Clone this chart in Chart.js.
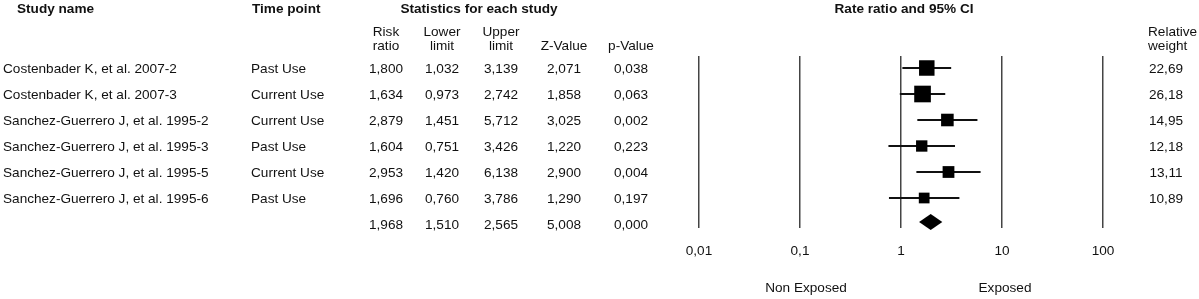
<!DOCTYPE html>
<html>
<head>
<meta charset="utf-8">
<title>Forest plot</title>
<script src="https://cdn.jsdelivr.net/npm/chart.js@4.4.1/dist/chart.umd.min.js"></script>
<style>
  html, body { margin: 0; padding: 0; background: #ffffff; overflow: hidden; }
  #wrap { position: relative; width: 1199px; height: 299px; }
</style>
</head>
<body>
<div id="wrap"><canvas id="forestChart" width="1199" height="299"></canvas></div>
<script>
// ── Data ──────────────────────────────────────────────────────────────────
const studyNames = [
    'Costenbader K, et al. 2007-2',
    'Costenbader K, et al. 2007-3',
    'Sanchez-Guerrero J, et al. 1995-2',
    'Sanchez-Guerrero J, et al. 1995-3',
    'Sanchez-Guerrero J, et al. 1995-5',
    'Sanchez-Guerrero J, et al. 1995-6'
];
const timePoints  = ['Past Use', 'Current Use', 'Current Use', 'Past Use', 'Current Use', 'Past Use'];
const riskRatio   = [1.800, 1.634, 2.879, 1.604, 2.953, 1.696];
const lowerLimit  = [1.032, 0.973, 1.451, 0.751, 1.420, 0.760];
const upperLimit  = [3.139, 2.742, 5.712, 3.426, 6.138, 3.786];
const zValues     = [2.071, 1.858, 3.025, 1.220, 2.900, 1.290];
const pValues     = [0.038, 0.063, 0.002, 0.223, 0.004, 0.197];
const relWeights  = [22.69, 26.18, 14.95, 12.18, 13.11, 10.89];

// pooled estimate (last row)
const summaryStats = [1.968, 1.510, 2.565, 5.008, 0.000]; // RR, lower, upper, Z, p

const axisTicks = [0.01, 0.1, 1, 10, 100];

// ── Helpers ───────────────────────────────────────────────────────────────
const FONT = '"Liberation Sans", Arial, Helvetica, sans-serif';
const FSIZE = 13.6;
const INK  = '#111111';
const fmt3 = v => v.toFixed(3).replace('.', ',');
const fmt2 = v => v.toFixed(2).replace('.', ',');
const summaryRow = studyNames.length;

// one line dataset per study for its confidence interval
const ciDatasets = studyNames.map((name, i) => ({
    type: 'line',
    label: name,
    data: [{ x: lowerLimit[i], y: i }, { x: upperLimit[i], y: i }],
    borderColor: INK,
    borderWidth: 2,
    pointRadius: 0,
    order: 2
}));

// ── Table text + diamond, drawn against the chart scales ─────────────────
const forestTable = {
    id: 'forestTable',
    afterDatasetsDraw(chart) {
        const { ctx, scales: { x, y } } = chart;
        const yc = y.getPixelForValue(summaryRow) - 2;
        const xl = x.getPixelForValue(summaryStats[1]);
        const xm = x.getPixelForValue(summaryStats[0]);
        const xr = x.getPixelForValue(summaryStats[2]);
        ctx.save();
        ctx.fillStyle = '#000';
        ctx.beginPath();
        ctx.moveTo(xl, yc);
        ctx.lineTo(xm, yc - 8);
        ctx.lineTo(xr, yc);
        ctx.lineTo(xm, yc + 8);
        ctx.closePath();
        ctx.fill();
        ctx.restore();
    },
    afterDraw(chart) {
        const { ctx, scales: { x, y } } = chart;
        ctx.save();
        ctx.fillStyle = INK;
        ctx.textBaseline = 'middle';

        // headers
        ctx.font = `bold ${FSIZE}px ${FONT}`;
        ctx.textAlign = 'left';
        ctx.fillText('Study name', 17, 9);
        ctx.fillText('Time point', 252, 9);
        ctx.textAlign = 'center';
        ctx.fillText('Statistics for each study', 479, 9);
        ctx.fillText('Rate ratio and 95% CI', 904, 9);

        ctx.font = `${FSIZE}px ${FONT}`;
        const cols = [386, 442, 501, 564, 631];
        const sub  = [['Risk', 'ratio'], ['Lower', 'limit'], ['Upper', 'limit'], ['', 'Z-Value'], ['', 'p-Value']];
        sub.forEach((s, k) => {
            ctx.fillText(s[0], cols[k], 32);
            ctx.fillText(s[1], cols[k], 46);
        });
        ctx.textAlign = 'left';
        ctx.fillText('Relative', 1148, 32);
        ctx.fillText('weight', 1148, 46);

        // study rows
        studyNames.forEach((name, i) => {
            const yy = y.getPixelForValue(i) + 1;
            ctx.textAlign = 'left';
            ctx.fillText(name, 3, yy);
            ctx.fillText(timePoints[i], 251, yy);
            ctx.textAlign = 'center';
            [riskRatio[i], lowerLimit[i], upperLimit[i], zValues[i], pValues[i]]
                .forEach((v, k) => ctx.fillText(fmt3(v), cols[k], yy));
            ctx.fillText(fmt2(relWeights[i]), 1166, yy);
        });

        // pooled row
        const ys = y.getPixelForValue(summaryRow) + 1;
        summaryStats.forEach((v, k) => ctx.fillText(fmt3(v), cols[k], ys));

        // direction labels
        ctx.fillText('Non Exposed', x.getPixelForValue(0.1) + 6, 288);
        ctx.fillText('Exposed', x.getPixelForValue(10) + 3, 288);
        ctx.restore();
    }
};

// ── Chart ─────────────────────────────────────────────────────────────────
const ctx = document.getElementById('forestChart').getContext('2d');
const chart = new Chart(ctx, {
    type: 'scatter',
    data: {
        datasets: [
            ...ciDatasets,
            {
                label: 'Risk ratio',
                data: riskRatio.map((v, i) => ({ x: v, y: i })),
                pointStyle: 'rect',
                pointRadius: c => Math.sqrt(relWeights[c.dataIndex]) * 2.3,
                pointHoverRadius: c => Math.sqrt(relWeights[c.dataIndex]) * 2.3,
                backgroundColor: '#000',
                borderColor: '#000',
                borderWidth: 0,
                order: 1
            }
        ]
    },
    options: {
        responsive: false,
        animation: false,
        events: [],
        layout: { padding: { left: 699, right: 96, top: 56, bottom: 0 } },
        plugins: {
            legend: { display: false },
            tooltip: { enabled: false }
        },
        scales: {
            x: {
                type: 'logarithmic',
                min: 0.01,
                max: 100,
                afterBuildTicks: s => { s.ticks = axisTicks.map(v => ({ value: v })); },
                afterFit: s => { s.height = 71; },
                border: { display: false },
                grid: { color: '#444', lineWidth: 1.5, drawTicks: false },
                ticks: {
                    color: INK,
                    padding: 15,
                    maxRotation: 0,
                    autoSkip: false,
                    font: { family: FONT, size: FSIZE },
                    callback: v => String(v).replace('.', ',')
                }
            },
            y: {
                type: 'linear',
                reverse: true,
                min: -0.4615,
                max: 6.1538,
                display: false
            }
        }
    },
    plugins: [forestTable]
});
</script>
</body>
</html>
